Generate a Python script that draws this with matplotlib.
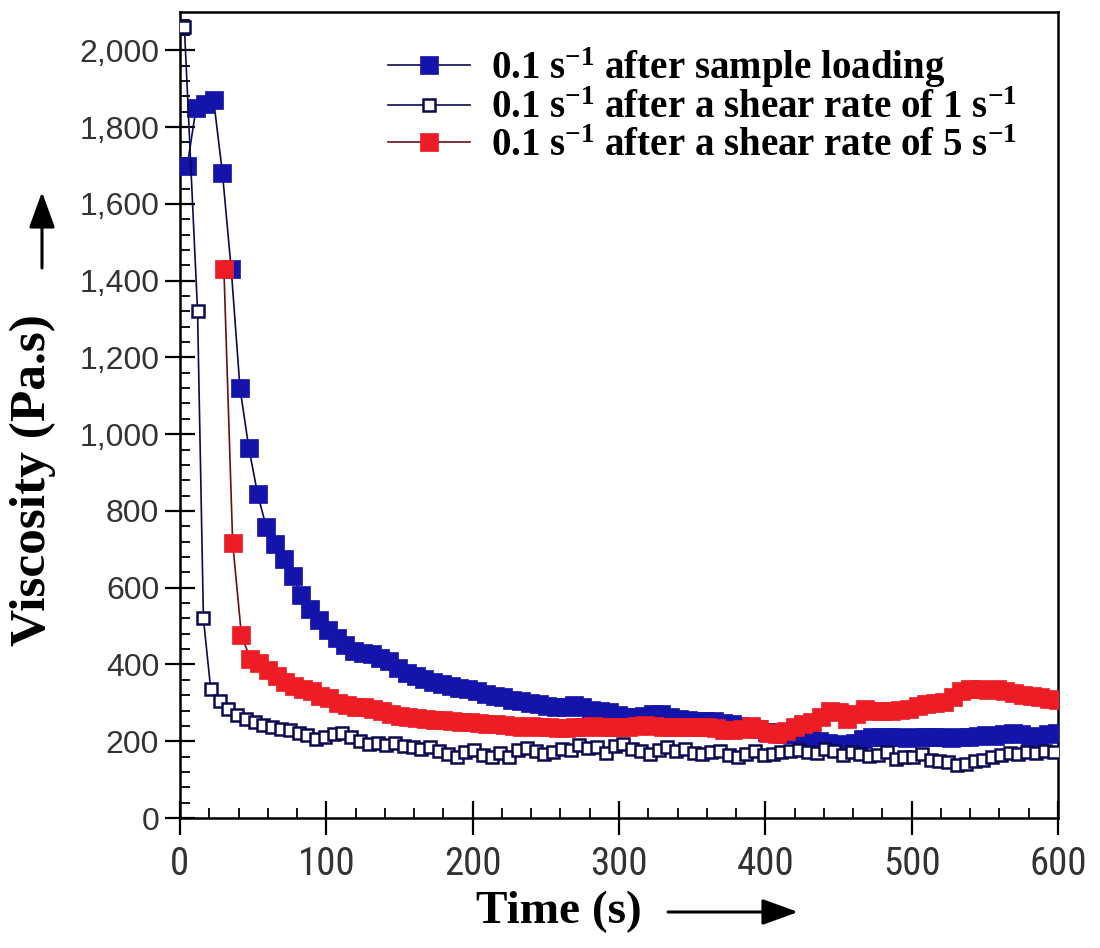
import numpy as np
import matplotlib
matplotlib.use("Agg")
import matplotlib.pyplot as plt
from matplotlib import font_manager
from matplotlib.ticker import MultipleLocator, FuncFormatter

# ---------------- data ----------------
# 0.1 s^-1 after sample loading (filled blue squares), sampled every 6 s from t=5
loading_t0 = 5
loading_vals = [
    1700, 1850, 1860, 1870, 1680, 1430, 1120, 965, 845, 757,
    715, 675, 630, 582, 545, 515, 490, 468, 450, 435,
    430, 428, 418, 408, 390, 378, 370, 362, 355, 350,
    345, 340, 335, 330, 322, 318, 314, 308, 305, 300,
    297, 293, 290, 290, 295, 290, 282, 279, 275, 268,
    262, 262, 265, 270, 271, 262, 258, 255, 253, 253,
    253, 248, 244, 240, 236, 232, 225, 222, 220, 218,
    215, 210, 200, 195, 192, 190, 195, 205, 210, 212,
    212, 210, 208, 210, 212, 210, 210, 208, 210, 212,
    214, 216, 214, 220, 222, 218, 214, 212, 218, 222,
]

# 0.1 s^-1 after a shear rate of 1 s^-1 (open squares)
shear1_early_t = [3, 12, 16]
shear1_early_vals = [2060, 1320, 520]
shear1_t0 = 21
shear1_vals = [
    335, 305, 285, 268, 258, 250, 242, 237, 232, 228,
    222, 215, 205, 210, 218, 222, 212, 200, 192, 196,
    190, 195, 188, 185, 180, 185, 175, 168, 160, 172,
    178, 165, 158, 170, 160, 178, 182, 175, 168, 172,
    180, 178, 190, 182, 185, 170, 188, 192, 180, 175,
    168, 178, 185, 175, 180, 170, 168, 172, 175, 165,
    160, 168, 175, 165, 168, 172, 175, 178, 172, 170,
    180, 175, 165, 172, 168, 162, 165, 172, 155, 158,
    160, 168, 150, 148, 145, 138, 140, 148, 152, 160,
    165, 170, 168, 172, 170, 175, 172,
]

# 0.1 s^-1 after a shear rate of 5 s^-1 (filled red squares), every 6 s from t=30
shear5_t0 = 30
shear5_vals = [
    1430, 716, 476, 415, 403, 385, 370, 355, 345, 335,
    332, 318, 312, 300, 295, 290, 289, 285, 278, 272,
    265, 262, 260, 258, 256, 255, 252, 250, 250, 248,
    245, 245, 242, 240, 238, 240, 238, 236, 235, 234,
    236, 238, 240, 238, 237, 236, 238, 240, 242, 240,
    238, 237, 237, 236, 237, 236, 234, 230, 228, 232,
    240, 232, 222, 220, 226, 236, 245, 250, 262, 279,
    275, 258, 270, 284, 280, 278, 279, 281, 285, 292,
    298, 300, 302, 315, 331, 336, 336, 334, 336, 330,
    325, 320, 318, 315, 310, 307,
]
step = 6

labels = [
    r"0.1 s$^{\mathregular{-1}}$ after sample loading",
    r"0.1 s$^{\mathregular{-1}}$ after a shear rate of 1 s$^{\mathregular{-1}}$",
    r"0.1 s$^{\mathregular{-1}}$ after a shear rate of 5 s$^{\mathregular{-1}}$",
]
x_label = "Time (s)"
y_label = "Viscosity (Pa.s)"
x_ticks = [0, 100, 200, 300, 400, 500, 600]
y_ticks = [0, 200, 400, 600, 800, 1000, 1200, 1400, 1600, 1800, 2000]

# ---------------- style ----------------
fonts = font_manager.fontManager.ttflist
names = {f.name for f in fonts}
xtick_font = {"family": "Liberation Sans", "size": 24}
if "Liberation Sans Narrow" in names:
    xtick_font = {"family": "Liberation Sans Narrow", "size": 29}
elif "Roboto Condensed" in names:
    xtick_font = {"family": "Roboto Condensed", "size": 28}
elif any(f.name == "DejaVu Sans" and "condensed" in str(f.stretch) for f in fonts):
    xtick_font = {"family": "DejaVu Sans", "size": 26, "stretch": "condensed"}
serif = "Liberation Serif"

plt.rcParams["mathtext.fontset"] = "custom"
plt.rcParams["mathtext.rm"] = "Liberation Serif:bold"
plt.rcParams["mathtext.it"] = "Liberation Serif:bold"
plt.rcParams["mathtext.bf"] = "Liberation Serif:bold"

BLUE = "#1414aa"
RED = "#ee1c24"
NAVY = "#0a0a50"

W, H = 1100, 948
fig = plt.figure(figsize=(W / 100, H / 100), dpi=100)
ax = fig.add_axes([180 / W, 1 - 818 / H, (1058 - 180) / W, (818 - 12) / H])

t_load = loading_t0 + step * np.arange(len(loading_vals))
t_s1 = np.concatenate([shear1_early_t, shear1_t0 + step * np.arange(len(shear1_vals))])
v_s1 = np.concatenate([shear1_early_vals, shear1_vals])
t_s5 = shear5_t0 + step * np.arange(len(shear5_vals))

h1, = ax.plot(t_load, loading_vals, "-s", color=NAVY, lw=1.2, ms=13,
              mfc=BLUE, mec=BLUE, mew=0.5, zorder=3)
h3, = ax.plot(t_s5, shear5_vals, "-s", color="#6a1010", lw=1.2, ms=13,
              mfc=RED, mec=RED, mew=0.5, zorder=4)
h2, = ax.plot(t_s1, v_s1, "-s", color=NAVY, lw=1.2, ms=9,
              mfc="white", mec=NAVY, mew=1.8, zorder=5)

ax.set_xlim(0, 600)
ax.set_ylim(0, 2100)
ax.set_xticks(x_ticks)
ax.set_yticks(y_ticks)
ax.xaxis.set_minor_locator(MultipleLocator(20))
ax.yaxis.set_minor_locator(MultipleLocator(40))
ax.yaxis.set_major_formatter(FuncFormatter(lambda v, p: f"{int(v):,}"))

for s in ax.spines.values():
    s.set_linewidth(1.8)
ax.tick_params(axis="x", which="major", direction="inout", length=24, width=1.6,
               pad=8, labelcolor="#333333")
ax.tick_params(axis="x", which="minor", direction="in", length=7, width=1.3)
ax.tick_params(axis="y", which="major", direction="inout", length=22, width=1.6,
               pad=4, labelsize=23, labelcolor="#333333")
ax.tick_params(axis="y", which="minor", direction="in", length=7, width=1.3)
for lab in ax.get_xticklabels():
    lab.set_fontfamily(xtick_font["family"])
    lab.set_fontsize(xtick_font["size"])
    if "stretch" in xtick_font:
        lab.set_fontstretch(xtick_font["stretch"])
for lab in ax.get_yticklabels():
    lab.set_fontfamily("Liberation Sans")

leg = ax.legend([h1, h2, h3], labels, loc="upper left",
                bbox_to_anchor=(388 / W, 1 - 45 / H), bbox_transform=fig.transFigure,
                frameon=False, borderpad=0, borderaxespad=0, handlelength=2.1,
                handletextpad=0.55, labelspacing=0.02,
                prop={"family": serif, "weight": "bold", "size": 28})

fig.text(33 / W, 1 - 480 / H, y_label, rotation=90, ha="center", va="center",
         family=serif, weight="bold", fontsize=37)
fig.text(559 / W, 1 - 912 / H, x_label, ha="center", va="center",
         family=serif, weight="bold", fontsize=34)

arrow = dict(arrowstyle="-|>,head_length=1.1,head_width=0.4", lw=2.2,
             color="black", mutation_scale=20, shrinkA=0, shrinkB=0)
fig.add_artist(matplotlib.patches.FancyArrowPatch(
    (42, H - 268), (42, H - 192), transform=None, **arrow))
fig.add_artist(matplotlib.patches.FancyArrowPatch(
    (668, H - 912), (798, H - 912), transform=None, **arrow))

fig.savefig("out.png", dpi=100, facecolor="white")
